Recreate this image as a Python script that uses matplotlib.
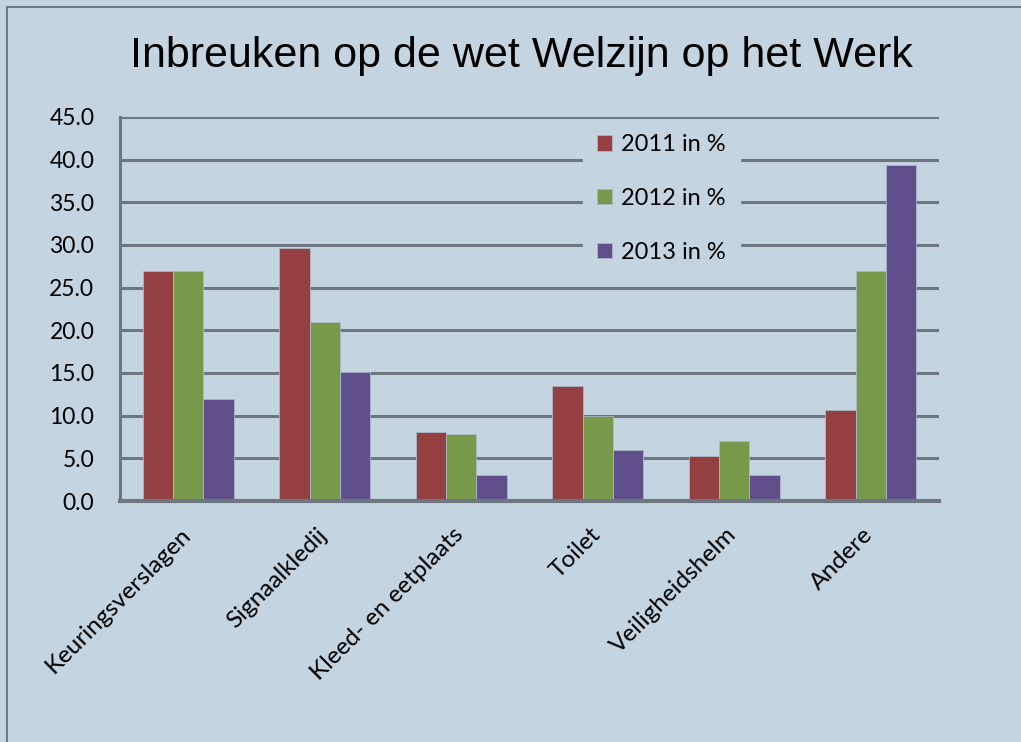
import matplotlib
matplotlib.use("Agg")
import matplotlib.pyplot as plt
import matplotlib.transforms as mtrans
import numpy as np
from matplotlib.lines import Line2D

categories = ["Keuringsverslagen", "Signaalkledij", "Kleed- en eetplaats",
              "Toilet", "Veiligheidshelm", "Andere"]
series_names = ["2011 in %", "2012 in %", "2013 in %"]
v2011 = [27.0, 29.7, 8.1, 13.5, 5.3, 10.7]
v2012 = [27.0, 21.0, 7.9, 10.0, 7.0, 27.0]
v2013 = [12.0, 15.1, 3.0, 6.0, 3.0, 39.4]
yticks = [0, 5, 10, 15, 20, 25, 30, 35, 40, 45]
title = "Inbreuken op de wet Welzijn op het Werk"

colors = ["#943F42", "#76994A", "#604F8C"]
bg = "#C4D4E1"
gridc = "#6E7680"

W, H = 1021, 742
fig = plt.figure(figsize=(W / 100, H / 100), dpi=100, facecolor=bg)
ax = fig.add_axes([120 / W, (H - 501) / H, (939 - 120) / W, (501 - 117) / H])
ax.set_facecolor(bg)

x = np.arange(len(categories))
bw = 0.222
for i, vals in enumerate([v2011, v2012, v2013]):
    ax.bar(x + (i - 1) * bw, vals, width=bw, color=colors[i],
           edgecolor="#A9B8C6", linewidth=0.6, label=series_names[i], zorder=3)

ax.set_xlim(-0.5, len(categories) - 0.5)
ax.set_ylim(0, 45)
ax.set_yticks(yticks)
ax.set_yticklabels([f"{t:.1f}" for t in yticks], family="Lato", fontsize=16.5)
ax.yaxis.grid(True, color=gridc, linewidth=2.2, zorder=1)
ax.set_axisbelow(True)
ax.tick_params(axis="y", length=0, pad=18.5)
ax.tick_params(axis="x", length=0, pad=0)
for s in ["top", "right"]:
    ax.spines[s].set_visible(False)
ax.spines["left"].set_color(gridc)
ax.spines["left"].set_linewidth(2.2)
ax.spines["bottom"].set_color(gridc)
ax.spines["bottom"].set_linewidth(3)
ax.spines["left"].set_zorder(4)
ax.spines["bottom"].set_zorder(4)

ax.set_xticks(x)
ax.set_xticklabels(categories, rotation=45, ha="right", va="top",
                   rotation_mode="anchor", family="Lato", fontsize=17.5)
offset = mtrans.ScaledTranslation(-6 / 72, -16.5 / 72, fig.dpi_scale_trans)
for lab in ax.get_xticklabels():
    lab.set_transform(lab.get_transform() + offset)

leg = fig.legend(loc="upper left", bbox_to_anchor=(583 / W, 1 - 120 / H),
                 bbox_transform=fig.transFigure, borderaxespad=0,
                 prop={"family": "Lato", "size": 17}, frameon=True,
                 facecolor=bg, edgecolor=bg, framealpha=1, fancybox=False,
                 handlelength=0.64, handleheight=0.64, handletextpad=0.36,
                 labelspacing=1.39, borderpad=0.6)

fig.text(521 / W, 1 - 56 / H, title, ha="center", va="center",
         family="Liberation Sans", fontsize=31, color="black")

# outer border (left and top visible)
fig.add_artist(Line2D([7 / W, 7 / W], [0, 1 - 7 / H], transform=fig.transFigure,
                      color="#707A84", linewidth=1.5))
fig.add_artist(Line2D([7 / W, 1], [1 - 7 / H, 1 - 7 / H], transform=fig.transFigure,
                      color="#707A84", linewidth=1.5))

fig.savefig("out.png", dpi=100, facecolor=bg)
